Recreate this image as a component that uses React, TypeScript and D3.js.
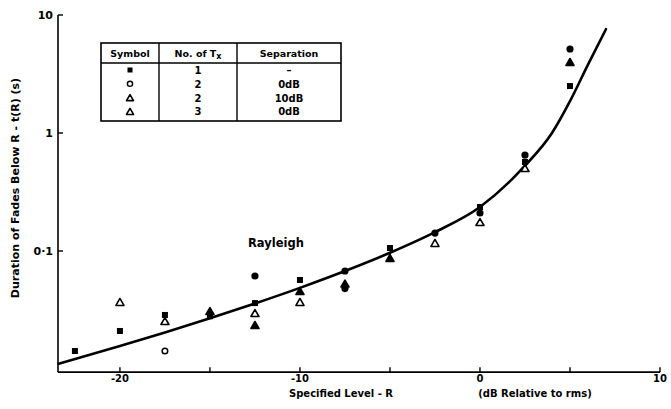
import React from "react";
import * as d3 from "d3";

// ---- data ----
const xTicks = [-20, -15, -10, -5, 0, 5, 10];
const xTickLabels = ["-20", "", "-10", "", "0", "", "10"];
const yTicks = [0.1, 1, 10];
const yTickLabels = ["0·1", "1", "10"];

// Rayleigh curve, points
const curveX = [-23.4, -20, -17.5, -15, -12.5, -10, -7.5, -5, -2.5, 0, 2.5, 4, 5, 6, 7];
const curveY = [0.0111, 0.0157, 0.0204, 0.0269, 0.0359, 0.0487, 0.0676, 0.0966, 0.1445, 0.2358, 0.528, 1.0, 1.862, 3.8, 7.59];

const sqX = [-22.5, -20, -17.5, -15, -12.5, -10, -5, 0, 2.5, 5];
const sqY = [0.0142, 0.021, 0.0287, 0.028, 0.0362, 0.0568, 0.106, 0.236, 0.568, 2.5];

const fcX = [-12.5, -7.5, -7.5, -2.5, 0, 2.5, 5];
const fcY = [0.0614, 0.0677, 0.048, 0.142, 0.21, 0.65, 5.15];

const ocX = [-17.5];
const ocY = [0.0142];

const ftX = [-15, -12.5, -10, -7.5, -5, 5];
const ftY = [0.031, 0.0236, 0.0458, 0.053, 0.0873, 4.0];

const otX = [-20, -17.5, -12.5, -10, -2.5, 0, 2.5];
const otY = [0.037, 0.0255, 0.0298, 0.037, 0.117, 0.176, 0.505];

const legendSymbols = ["square", "circle", "triangle", "triangle"];
const legendTx = ["1", "2", "2", "3"];
const legendSep = ["–", "0dB", "10dB", "0dB"];

const W = 671;
const H = 409;
const font = "'DejaVu Sans', Verdana, sans-serif";

const x = d3.scaleLinear().domain([-23.44, 10]).range([58, 660]);
const y = d3.scaleLog().domain([0.01, 10]).range([369, 15]);
const yBottom = 0.0094;

const line = d3
  .line<number>()
  .x((_, i) => x(curveX[i]))
  .y((_, i) => y(curveY[i]))
  .curve(d3.curveMonotoneX);

function Square({ cx, cy, s = 6 }: { cx: number; cy: number; s?: number }) {
  return <rect x={cx - s / 2} y={cy - s / 2} width={s} height={s} fill="#000" />;
}
function Tri({ cx, cy, filled, s = 8 }: { cx: number; cy: number; filled: boolean; s?: number }) {
  const h = s * 0.87;
  const p = `M${cx},${cy - h / 2}L${cx + s / 2},${cy + h / 2}L${cx - s / 2},${cy + h / 2}Z`;
  return <path d={p} fill={filled ? "#000" : "#fff"} stroke="#000" strokeWidth={1.6} strokeLinejoin="round" />;
}

export default function App() {
  const xAxisY = y(yBottom);
  return (
    <svg
      width={W}
      height={H}
      viewBox={`0 0 ${W} ${H}`}
      style={{ position: "absolute", left: 0, top: 0, background: "#fff" }}
      fontFamily={font}
    >
      <rect width={W} height={H} fill="#fff" />
      {/* axes */}
      <line x1={x(-23.44)} x2={x(-23.44)} y1={y(10)} y2={xAxisY} stroke="#000" strokeWidth={1.6} />
      <line x1={x(-23.44)} x2={x(10)} y1={xAxisY} y2={xAxisY} stroke="#000" strokeWidth={1.6} />
      {yTicks.map((t, i) => (
        <g key={"yt" + i}>
          <line x1={x(-23.44)} x2={x(-23.44) + 5} y1={y(t)} y2={y(t)} stroke="#000" strokeWidth={1.4} />
          <text x={x(-23.44) - 5} y={y(t) + 4} textAnchor="end" fontSize={11} fontWeight="bold">
            {yTickLabels[i]}
          </text>
        </g>
      ))}
      {xTicks.map((t, i) => (
        <g key={"xt" + i}>
          <line x1={x(t)} x2={x(t)} y1={xAxisY} y2={xAxisY - 5} stroke="#000" strokeWidth={1.4} />
          <text x={x(t)} y={382} textAnchor="middle" fontSize={10} fontWeight="bold">
            {xTickLabels[i]}
          </text>
        </g>
      ))}
      {/* axis labels */}
      <text x={341} y={397} textAnchor="middle" fontSize={10} fontWeight="bold">
        Specified Level - R
      </text>
      <text x={535} y={397} textAnchor="middle" fontSize={10} fontWeight="bold">
        (dB Relative to rms)
      </text>
      <text
        transform={`translate(19,188) rotate(-90)`}
        textAnchor="middle"
        fontSize={11}
        fontWeight="bold"
      >
        Duration of Fades Below R - t(R)  (s)
      </text>
      {/* curve */}
      <path d={line(curveX) || ""} fill="none" stroke="#000" strokeWidth={2.6} strokeLinecap="round" />
      <text x={248} y={247} fontSize={11.5} fontWeight="bold">
        Rayleigh
      </text>
      {/* points */}
      {sqX.map((v, i) => (
        <Square key={"sq" + i} cx={x(v)} cy={y(sqY[i])} />
      ))}
      {fcX.map((v, i) => (
        <circle key={"fc" + i} cx={x(v)} cy={y(fcY[i])} r={3.6} fill="#000" />
      ))}
      {ocX.map((v, i) => (
        <circle key={"oc" + i} cx={x(v)} cy={y(ocY[i])} r={2.8} fill="#fff" stroke="#000" strokeWidth={1.5} />
      ))}
      {ftX.map((v, i) => (
        <Tri key={"ft" + i} cx={x(v)} cy={y(ftY[i])} filled />
      ))}
      {otX.map((v, i) => (
        <Tri key={"ot" + i} cx={x(v)} cy={y(otY[i])} filled={false} />
      ))}
      {/* legend table */}
      <g>
        <rect x={101} y={43} width={240} height={78} fill="#fff" stroke="#000" strokeWidth={1.6} />
        <line x1={101} x2={341} y1={63} y2={63} stroke="#000" strokeWidth={1.4} />
        <line x1={159} x2={159} y1={43} y2={121} stroke="#000" strokeWidth={1.4} />
        <line x1={237} x2={237} y1={43} y2={121} stroke="#000" strokeWidth={1.4} />
        <text x={130} y={57} textAnchor="middle" fontSize={9.5} fontWeight="bold">Symbol</text>
        <text x={198} y={57} textAnchor="middle" fontSize={9.5} fontWeight="bold">
          No. of T<tspan fontSize={8} dy={2}>x</tspan>
        </text>
        <text x={289} y={57} textAnchor="middle" fontSize={9.5} fontWeight="bold">Separation</text>
        {legendSymbols.map((s, i) => {
          const ry = 70 + i * 13.8;
          return (
            <g key={"lg" + i}>
              {s === "square" && <Square cx={130} cy={ry} s={5} />}
              {s === "circle" && <circle cx={130} cy={ry} r={2.6} fill="#fff" stroke="#000" strokeWidth={1.4} />}
              {s === "triangle" && <Tri cx={130} cy={ry} filled={false} s={7} />}
              <text x={198} y={ry + 4} textAnchor="middle" fontSize={10} fontWeight="bold">{legendTx[i]}</text>
              <text x={289} y={ry + 4} textAnchor="middle" fontSize={10} fontWeight="bold">{legendSep[i]}</text>
            </g>
          );
        })}
      </g>
    </svg>
  );
}
